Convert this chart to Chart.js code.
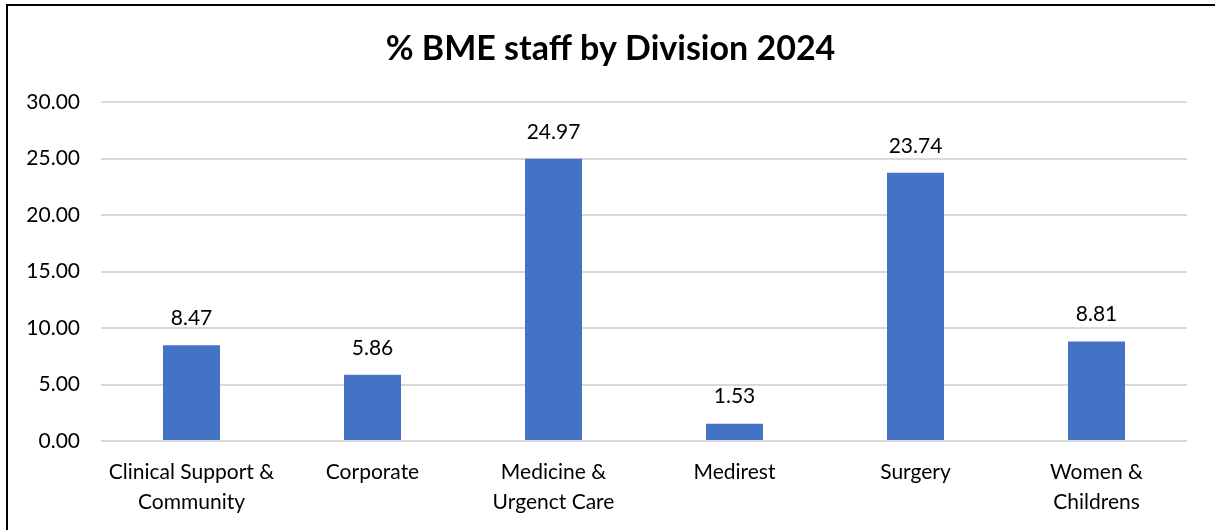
<!DOCTYPE html>
<html>
<head>
<meta charset="utf-8">
<script src="https://cdn.jsdelivr.net/npm/chart.js@4"></script>
<style>
  html, body { margin: 0; padding: 0; background: #fff; overflow: hidden; }
  #frame {
    position: absolute; left: 6px; top: 4px; width: 1300px; height: 600px;
    border: 2px solid #000; box-sizing: border-box;
  }
  #wrap { position: absolute; left: 0; top: 0; width: 1215px; height: 530px; }
</style>
</head>
<body>
<div id="frame"></div>
<div id="wrap"><canvas id="chart"></canvas></div>
<script>
const divisions = [
  ['Clinical Support &', 'Community'],
  'Corporate',
  ['Medicine &', 'Urgenct Care'],
  'Medirest',
  'Surgery',
  ['Women &', 'Childrens'],
];
const bmePercent = [8.47, 5.86, 24.97, 1.53, 23.74, 8.81];
const chartTitle = '% BME staff by Division 2024';

const FONT = 'Lato, "Open Sans", sans-serif';

// title centred on the whole frame, not just the plot box
const frameTitle = {
  id: 'frameTitle',
  afterDraw(chart) {
    const ctx = chart.ctx;
    ctx.save();
    ctx.font = `bold 34px ${FONT}`;
    ctx.fillStyle = '#000';
    ctx.textAlign = 'center';
    ctx.textBaseline = 'middle';
    ctx.fillText(chartTitle, chart.width / 2 + 3, 49);
    ctx.restore();
  },
};

// writes the value above each bar
const valueLabels = {
  id: 'valueLabels',
  afterDatasetsDraw(chart) {
    const ctx = chart.ctx;
    const meta = chart.getDatasetMeta(0);
    ctx.save();
    ctx.font = `21px ${FONT}`;
    ctx.fillStyle = '#000';
    ctx.textAlign = 'center';
    ctx.textBaseline = 'middle';
    meta.data.forEach((bar, i) => {
      ctx.fillText(bmePercent[i].toFixed(2), bar.x, bar.y - 27);
    });
    ctx.restore();
  },
};

new Chart(document.getElementById('chart'), {
  type: 'bar',
  data: {
    labels: divisions,
    datasets: [{
      data: bmePercent,
      backgroundColor: '#4472C4',
      categoryPercentage: 1,
      barPercentage: 0.315,
    }],
  },
  options: {
    responsive: true,
    maintainAspectRatio: false,
    animation: false,
    layout: { padding: { left: 0, right: 28, top: 102, bottom: 0 } },
    plugins: {
      legend: { display: false },
      tooltip: { enabled: false },
      title: { display: false },
    },
    scales: {
      x: {
        grid: { display: false },
        border: { display: false },
        ticks: {
          color: '#000',
          font: { family: FONT, size: 21, lineHeight: 1.43 },
          padding: 8,
          maxRotation: 0,
          autoSkip: false,
        },
        afterFit(scale) { scale.height = 89; },
      },
      y: {
        min: 0,
        max: 30,
        ticks: {
          stepSize: 5,
          color: '#000',
          font: { family: FONT, size: 21 },
          padding: 21,
          callback: (v) => v.toFixed(2),
        },
        grid: { color: '#d9d9d9', lineWidth: 2, drawTicks: false },
        border: { display: false },
        afterFit(scale) { scale.width = 101; },
      },
    },
  },
  plugins: [valueLabels, frameTitle],
});
</script>
</body>
</html>
